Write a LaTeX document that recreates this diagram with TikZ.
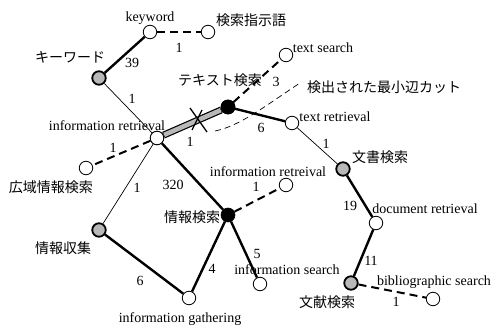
\documentclass[tikz,border=0pt]{standalone}
\usepackage{fontspec}
\setmainfont{Liberation Serif}
\newfontfamily\jp{Noto Sans CJK JP}
\begin{document}
\begin{tikzpicture}[x=1pt,y=-1pt,
  wn/.style={circle,draw,fill=white,inner sep=0pt,minimum size=13.5pt,line width=0.8pt},
  gn/.style={circle,draw,fill=black!28,inner sep=0pt,minimum size=13.5pt,line width=1.8pt},
  bn/.style={circle,draw,fill=black,inner sep=0pt,minimum size=14pt,line width=0.6pt},
  thk/.style={line width=2.4pt},
  thn/.style={line width=0.7pt},
  dsh/.style={line width=2pt,dash pattern=on 8pt off 5pt},
  lab/.style={inner sep=0pt,font=\fontsize{14}{16}\selectfont},
  jlab/.style={inner sep=0pt,font=\fontsize{14}{16}\selectfont\jp},
  num/.style={inner sep=0pt,font=\fontsize{14}{16}\selectfont}]
\useasboundingbox[fill=white] (0,0) rectangle (493,329);
% nodes
\node[wn] (kw) at (150,32) {};
\node[wn] (ksj) at (208,32) {};
\node[gn] (kwj) at (99,78) {};
\node[wn] (ir) at (157,138) {};
\node[bn] (tsj) at (228,107) {};
\node[wn] (ts) at (286,55) {};
\node[wn] (tr) at (292,123) {};
\node[gn] (bsk) at (343,169) {};
\node[wn] (dr) at (376,223) {};
\node[gn] (bnk) at (351,283) {};
\node[wn] (bs) at (433,299) {};
\node[wn] (ir2) at (286,185) {};
\node[bn] (jk) at (228,215) {};
\node[wn] (is) at (260,284) {};
\node[wn] (ig) at (189,298) {};
\node[gn] (js) at (99,230) {};
\node[wn] (kij) at (86,168) {};
% edges
\draw[thk] (kw) -- (kwj);
\draw[dsh] (kw) -- (ksj);
\draw[thn] (kwj) -- (ir);
\draw[line width=7pt] (ir) -- (tsj);
\draw[line width=4.6pt,black!28,shorten <=0.6pt,shorten >=0.6pt] (ir) -- (tsj);
\draw[dsh] (tsj) -- (ts);
\draw[thk] (tsj) -- (tr);
\draw[thn] (tr) -- (bsk);
\draw[thk] (bsk) -- (dr);
\draw[thk] (dr) -- (bnk);
\draw[dsh] (bnk) -- (bs);
\draw[dsh] (ir) -- (kij);
\draw[thn] (ir) -- (js);
\draw[thk] (ir) -- (jk);
\draw[dsh] (jk) -- (ir2);
\draw[thk] (jk) -- (ig);
\draw[thk] (jk) -- (is);
\draw[thk] (js) -- (ig);
% redraw nodes on top of the band
\node[wn] at (ir) {};
\node[bn] at (tsj) {};
% cut mark
\coordinate (x1a) at (190,108);
\coordinate (x1b) at (207,132);
\coordinate (x2a) at (202,110);
\coordinate (x2b) at (192,130);
\draw[line width=1.3pt] (x1a) -- (x1b);
\draw[line width=1.3pt] (x2a) -- (x2b);
\coordinate (c0) at (215,131);
\coordinate (c1) at (300,83);
\draw[line width=0.7pt,dash pattern=on 6pt off 4pt] (c0) .. controls (240,126) and (265,106) .. (c1);
% text labels
\node[lab] (t-kw) at (150,18) {keyword};
\node[jlab] (t-ksj) at (251,20) {検索指示語};
\node[jlab] (t-kwj) at (70,57) {キーワード};
\node[jlab] (t-tsj) at (220,80) {テキスト検索};
\node[lab] (t-ts) at (323,48) {text search};
\node[jlab] (t-cut) at (384,87) {検出された最小辺カット};
\node[lab] (t-ir) at (107,126) {information retrieval};
\node[lab] (t-tr) at (335,117) {text retrieval};
\node[jlab] (t-bsk) at (380,157) {文書検索};
\node[jlab] (t-kij) at (51,187) {広域情報検索};
\node[lab] (t-ir2) at (268,172) {information retreival};
\node[jlab] (t-jk) at (192,217) {情報検索};
\node[jlab] (t-js) at (63,248) {情報収集};
\node[lab] (t-is) at (287,270) {information search};
\node[lab] (t-dr) at (425,209) {document retrieval};
\node[lab] (t-bs) at (434,282) {bibliographic search};
\node[jlab] (t-bnk) at (327,302) {文献検索};
\node[lab] (t-ig) at (180,319) {information gathering};
% weights
\node[num] (w1) at (132,63) {39};
\node[num] (w2) at (179,48) {1};
\node[num] (w3) at (132,99) {1};
\node[num] (w4) at (190,142) {1};
\node[num] (w5) at (113,148) {1};
\node[num] (w6) at (276,82) {3};
\node[num] (w7) at (261,128) {6};
\node[num] (w8) at (326,144) {1};
\node[num] (w9) at (137,188) {1};
\node[num] (w10) at (173,185) {320};
\node[num] (w11) at (256,187) {1};
\node[num] (w12) at (212,269) {4};
\node[num] (w13) at (257,254) {5};
\node[num] (w14) at (140,281) {6};
\node[num] (w15) at (350,206) {19};
\node[num] (w16) at (371,261) {11};
\node[num] (w17) at (396,302) {1};
\end{tikzpicture}
\end{document}
